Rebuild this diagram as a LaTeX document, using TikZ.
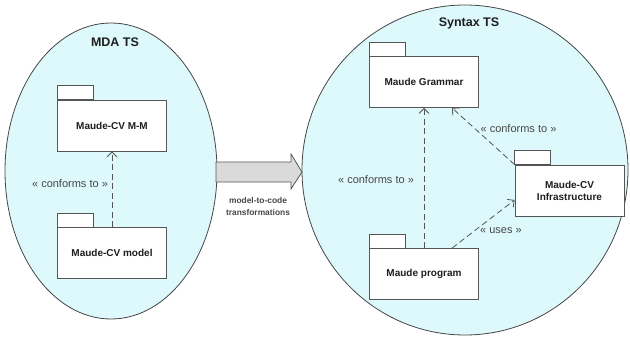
\documentclass[tikz,border=0pt]{standalone}
\usepackage{fontspec}
\setmainfont{Liberation Sans}
\usetikzlibrary{arrows.meta,shapes.geometric}
\definecolor{tsfill}{RGB}{222,249,252}
\definecolor{tsline}{RGB}{70,70,70}
\definecolor{boxline}{RGB}{85,85,85}
\definecolor{txt}{RGB}{30,30,30}
\definecolor{stxt}{RGB}{70,70,70}
\definecolor{shaft}{RGB}{218,218,218}
\tikzset{
  tspace/.style={ellipse, draw=tsline, fill=tsfill, line width=0.8pt, inner sep=0pt},
  tstitle/.style={font=\fontsize{12.5}{14}\selectfont\bfseries, text=txt},
  pkg/.style={draw=boxline, fill=white, line width=0.8pt, minimum width=109pt,
    minimum height=51pt, inner sep=2pt, align=center,
    font=\fontsize{10}{12}\selectfont\bfseries, text=txt},
  pkgtab/.style={draw=boxline, fill=white, line width=0.8pt},
  dep/.style={draw=boxline, line width=0.8pt, dash pattern=on 6pt off 3.5pt,
    -{Straight Barb[length=5pt,width=10pt]}},
  stereo/.style={font=\fontsize{11}{13}\selectfont, text=stxt},
  blockarrow/.style={draw=boxline, fill=shaft, line width=0.8pt, line join=miter},
  arrowlabel/.style={font=\fontsize{8.4}{12}\selectfont\bfseries, text=stxt, align=center}
}
\begin{document}
\begin{tikzpicture}[x=1pt, y=-1pt]
\useasboundingbox (0,0) rectangle (630,337);

% technical spaces
\node[tspace, minimum width=212pt, minimum height=296pt] (mda) at (111,171) {};
\node[tspace, minimum width=326pt, minimum height=330pt] (syn) at (465,170) {};
\node[tstitle] (mdatitle) at (115,42) {MDA TS};
\node[tstitle] (syntitle) at (469,23) {Syntax TS};

% transformation arrow between the two spaces
\draw[blockarrow] (216,162) -- (291,162) -- (291,154) -- (302,172)
  -- (291,189) -- (291,182) -- (216,182) -- cycle;
\node[arrowlabel] (trlabel) at (258,206) {model-to-code\\transformations};

% packages
\node[pkg] (mm) at (112,125.5) {Maude-CV M-M};
\node[pkg] (model) at (112,253) {Maude-CV model};
\node[pkg] (gram) at (424,82) {Maude Grammar};
\node[pkg] (prog) at (424,274) {Maude program};
\node[pkg] (infra) at (569.5,190.5) {Maude-CV\\Infrastructure};
\foreach \p in {mm,model,gram,prog,infra}
  \draw[pkgtab] (\p.north west) rectangle ++(36,-14);

% dependencies
\draw[dep] (model.north) -- (mm.south);
\node[stereo] (c1) at (70,184) {« conforms to »};
\draw[dep] (prog.north) -- (gram.south);
\node[stereo] (c2) at (376,180) {« conforms to »};
\draw[dep] (infra.north west) -- ([xshift=28pt]gram.south);
\node[stereo] (c3) at (518.5,129) {« conforms to »};
\draw[dep] ([xshift=28pt]prog.north) -- ([yshift=-9.5pt]infra.west);
\node[stereo] (c4) at (501,231) {« uses »};
\end{tikzpicture}
\end{document}
